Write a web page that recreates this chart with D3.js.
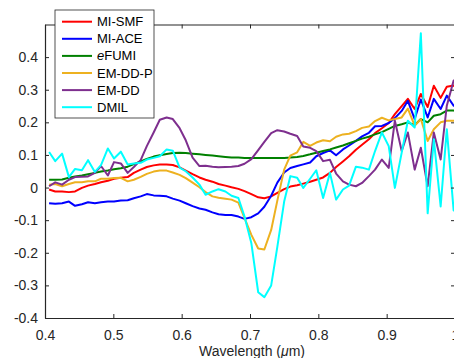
<!DOCTYPE html>
<html>
<head>
<meta charset="utf-8">
<script src="https://cdn.jsdelivr.net/npm/d3@7"></script>
<style>
    body { margin: 0; background: #fff; }
    svg { display: block; font-family: "Liberation Sans", Arial, sans-serif; }
    .axis path, .axis line { stroke: #262626; }
    .axis text { fill: #262626; font-size: 14px; }
</style>
</head>
<body>
<svg id="chart" width="454" height="358"></svg>
<script>
// Wavelengths of the bands (um)
const wavelength = [0.406, 0.415, 0.425, 0.435, 0.444, 0.454, 0.463, 0.473, 0.482, 0.492,
    0.501, 0.511, 0.521, 0.530, 0.540, 0.549, 0.559, 0.568, 0.578, 0.587,
    0.597, 0.606, 0.616, 0.626, 0.635, 0.645, 0.654, 0.664, 0.673, 0.683,
    0.692, 0.702, 0.712, 0.721, 0.731, 0.740, 0.750, 0.759, 0.769, 0.778,
    0.788, 0.797, 0.807, 0.817, 0.826, 0.836, 0.845, 0.855, 0.864, 0.874,
    0.883, 0.893, 0.903, 0.912, 0.922, 0.931, 0.941, 0.950, 0.960, 0.969,
    0.979, 0.988, 0.998, 1.008];

const miSmf = [-0.006, -0.012, -0.012, -0.014, -0.012, -0.001, 0.006, 0.011, 0.016, 0.021,
    0.027, 0.030, 0.032, 0.045, 0.055, 0.063, 0.068, 0.071, 0.071, 0.069,
    0.062, 0.052, 0.041, 0.031, 0.024, 0.018, 0.011, 0.006, 0.001, -0.004,
    -0.011, -0.020, -0.030, -0.033, -0.027, -0.016, -0.005, 0.003, 0.007, 0.012,
    0.018, 0.024, 0.031, 0.045, 0.063, 0.080, 0.096, 0.116, 0.131, 0.148,
    0.167, 0.182, 0.198, 0.225, 0.250, 0.272, 0.241, 0.287, 0.247, 0.312,
    0.275, 0.309, 0.313, 0.290];

const miAce = [-0.048, -0.050, -0.048, -0.043, -0.056, -0.051, -0.045, -0.048, -0.045, -0.043,
    -0.043, -0.040, -0.039, -0.033, -0.027, -0.020, -0.024, -0.025, -0.027, -0.034,
    -0.040, -0.048, -0.057, -0.064, -0.068, -0.076, -0.082, -0.084, -0.084, -0.089,
    -0.096, -0.091, -0.079, -0.059, -0.025, 0.015, 0.046, 0.060, 0.066, 0.071,
    0.077, 0.096, 0.106, 0.114, 0.099, 0.117, 0.129, 0.143, 0.157, 0.168,
    0.188, 0.189, 0.198, 0.213, 0.235, 0.266, 0.210, 0.270, 0.215, 0.272,
    0.241, 0.282, 0.251, 0.240];

const eFumi = [0.024, 0.024, 0.025, 0.030, 0.034, 0.037, 0.041, 0.045, 0.049, 0.052,
    0.056, 0.059, 0.064, 0.072, 0.080, 0.088, 0.095, 0.099, 0.103, 0.106,
    0.107, 0.106, 0.104, 0.102, 0.100, 0.098, 0.096, 0.094, 0.092, 0.092,
    0.091, 0.091, 0.091, 0.091, 0.091, 0.091, 0.091, 0.092, 0.094, 0.097,
    0.102, 0.107, 0.112, 0.117, 0.123, 0.129, 0.136, 0.143, 0.150, 0.156,
    0.163, 0.170, 0.180, 0.189, 0.194, 0.200, 0.191, 0.210, 0.200, 0.220,
    0.225, 0.236, 0.236, 0.233];

const emDdP = [0.009, 0.011, 0.004, 0.011, 0.016, 0.016, 0.019, 0.019, 0.027, 0.027,
    0.029, 0.030, 0.019, 0.024, 0.033, 0.042, 0.049, 0.052, 0.052, 0.046,
    0.039, 0.029, 0.015, 0.001, -0.014, -0.027, -0.031, -0.034, -0.037, -0.046,
    -0.094, -0.145, -0.187, -0.190, -0.130, -0.040, 0.055, 0.098, 0.108, 0.140,
    0.128, 0.138, 0.145, 0.142, 0.156, 0.163, 0.165, 0.173, 0.183, 0.187,
    0.204, 0.214, 0.206, 0.210, 0.215, 0.242, 0.190, 0.210, 0.143, 0.179,
    0.200, 0.205, 0.205, 0.205];

const emDd = [0.004, 0.016, 0.009, 0.024, 0.032, 0.033, 0.034, 0.045, 0.066, 0.037,
    0.078, 0.074, 0.045, 0.063, 0.084, 0.127, 0.169, 0.208, 0.215, 0.210,
    0.182, 0.145, 0.092, 0.066, 0.067, 0.064, 0.062, 0.063, 0.064, 0.066,
    0.073, 0.087, 0.115, 0.140, 0.167, 0.176, 0.172, 0.165, 0.158, 0.126,
    0.122, 0.112, 0.081, 0.085, 0.043, 0.019, 0.009, 0.004, 0.014, 0.035,
    0.055, 0.086, 0.060, 0.205, 0.112, 0.169, 0.055, 0.122, 0.004, 0.169,
    0.086, 0.251, 0.328, 0.330];

const dmil = [0.109, 0.081, 0.104, 0.032, 0.057, 0.053, 0.084, 0.048, 0.069, 0.120,
    0.089, 0.110, 0.071, 0.074, 0.076, 0.086, 0.091, 0.096, 0.117, 0.113,
    0.061, 0.050, 0.031, 0.009, -0.022, -0.012, -0.005, -0.012, -0.025, -0.032,
    -0.089, -0.171, -0.321, -0.336, -0.300, -0.182, -0.043, 0.035, 0.030, -0.001,
    0.027, 0.053, -0.032, 0.045, -0.037, -0.006, 0.006, 0.064, 0.061, 0.055,
    0.112, 0.169, 0.127, -0.001, 0.107, 0.205, 0.184, 0.473, -0.079, 0.148,
    -0.058, 0.179, -0.070, -0.080];

const seriesNames = ['MI-SMF', 'MI-ACE', 'eFUMI', 'EM-DD-P', 'EM-DD', 'DMIL'];
const seriesValues = [miSmf, miAce, eFumi, emDdP, emDd, dmil];
const seriesColors = ['#ff0000', '#0000ff', '#008000', '#edb120', '#7e2f8e', '#00ffff'];

const xTicks = [0.4, 0.5, 0.6, 0.7, 0.8, 0.9, 1.0];
const yTicks = [-0.4, -0.3, -0.2, -0.1, 0, 0.1, 0.2, 0.3, 0.4];

const svg = d3.select('#chart');
const plotL = 45, plotR = 455, plotT = 24.5, plotB = 318;

const x = d3.scaleLinear().domain([0.4, 1.0]).range([plotL, plotR]);
const y = d3.scaleLinear().domain([-0.4, 0.5]).range([plotB, plotT]);

const fmt = d => d === 0 ? '0' : String(+d.toFixed(1));

// Clip lines to the axes box
svg.append('clipPath').attr('id', 'plot-clip')
    .append('rect')
    .attr('x', plotL).attr('y', plotT)
    .attr('width', plotR - plotL).attr('height', plotB - plotT);

// Lines, drawn in legend order so DMIL ends on top
const line = d3.line()
    .x((d, i) => x(wavelength[i]))
    .y(d => y(d));

svg.append('g')
    .attr('clip-path', 'url(#plot-clip)')
    .selectAll('path')
    .data(seriesValues)
    .join('path')
    .attr('d', d => line(d))
    .attr('fill', 'none')
    .attr('stroke', (d, i) => seriesColors[i])
    .attr('stroke-width', 2)
    .attr('stroke-linejoin', 'round');

// Axes (ticks point inward like MATLAB)
svg.append('g')
    .attr('class', 'axis')
    .attr('transform', `translate(0,${plotB})`)
    .call(d3.axisBottom(x).tickValues(xTicks).tickFormat(fmt).tickSize(-4).tickSizeOuter(0).tickPadding(12));

svg.append('g')
    .attr('class', 'axis')
    .attr('transform', `translate(0,${plotT})`)
    .call(d3.axisTop(x).tickValues(xTicks).tickFormat('').tickSize(-4).tickSizeOuter(0));

svg.append('g')
    .attr('class', 'axis')
    .attr('transform', `translate(${plotL},0)`)
    .call(d3.axisLeft(y).tickValues(yTicks).tickFormat(fmt).tickSize(-4).tickSizeOuter(0).tickPadding(7));

svg.append('g')
    .attr('class', 'axis')
    .attr('transform', `translate(${plotR},0)`)
    .call(d3.axisRight(y).tickValues(yTicks).tickFormat('').tickSize(-4).tickSizeOuter(0));

svg.selectAll('.axis .domain').attr('stroke-width', 1.2);

// X label
const xlab = svg.append('text')
    .attr('x', 252)
    .attr('y', 356)
    .attr('text-anchor', 'middle')
    .attr('fill', '#262626')
    .style('font-size', '14px')
    .text('Wavelength (');
xlab.append('tspan').style('font-style', 'italic').text('\u03bc');
xlab.append('tspan').text('m)');

// Legend
const legend = svg.append('g').attr('transform', 'translate(55,10)');
legend.append('rect')
    .attr('width', 99).attr('height', 108)
    .attr('fill', '#fff')
    .attr('stroke', '#262626')
    .attr('stroke-width', 0.8);

const item = legend.selectAll('g.item')
    .data(seriesNames)
    .join('g')
    .attr('class', 'item')
    .attr('transform', (d, i) => `translate(0,${11.7 + i * 17.1})`);

item.append('line')
    .attr('x1', 7).attr('x2', 37)
    .attr('stroke', (d, i) => seriesColors[i])
    .attr('stroke-width', 2);

item.append('text')
    .attr('x', 42)
    .attr('dy', '0.35em')
    .attr('fill', '#000')
    .style('font-size', '13px')
    .each(function (d) {
        const t = d3.select(this);
        if (d === 'eFUMI') {
            t.append('tspan').style('font-style', 'italic').text('e');
            t.append('tspan').text('FUMI');
        } else {
            t.text(d);
        }
    });
</script>
</body>
</html>
